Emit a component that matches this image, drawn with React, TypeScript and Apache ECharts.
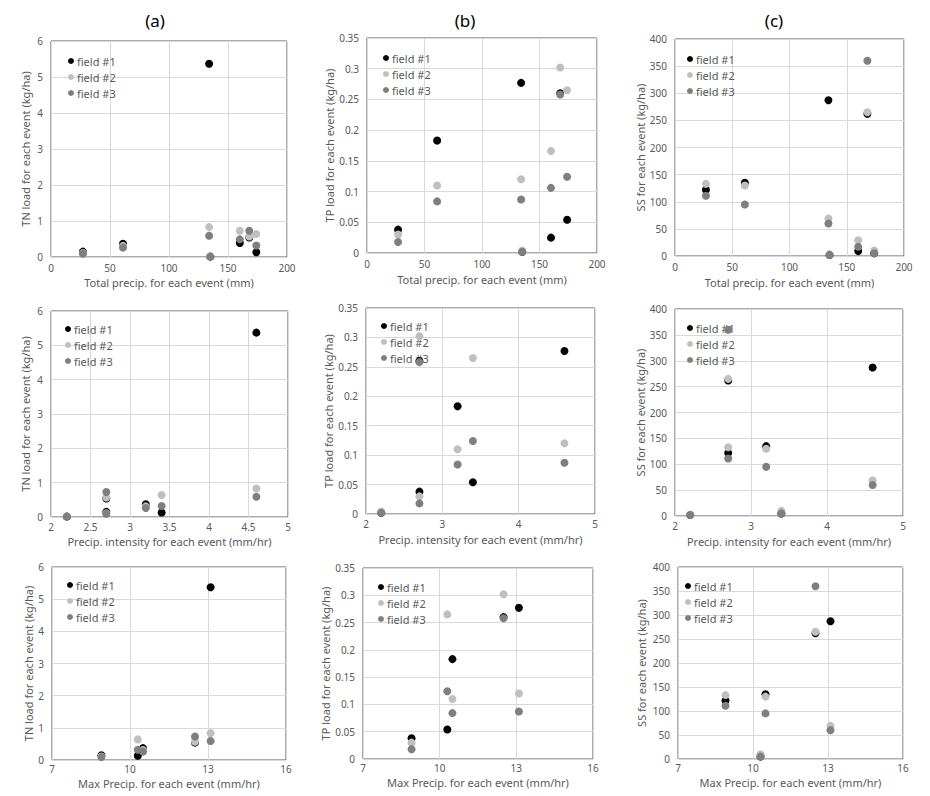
import React, { useEffect, useRef } from "react";
import * as echarts from "echarts";

// Event attributes (7 rainfall events)
const totalPrecip: (number | null)[] = [27, 61, 134, 135, 160, 168, 174];
const intensity: (number | null)[] = [2.7, 3.2, 4.6, 2.2, null, 2.7, 3.4];
const maxPrecip: (number | null)[] = [8.9, 10.5, 13.1, null, null, 12.5, 10.3];

// TN load (kg/ha)
const tnField1 = [0.15, 0.37, 5.37, 0.01, 0.39, 0.54, 0.13];
const tnField2 = [0.11, 0.31, 0.83, 0.02, 0.73, 0.57, 0.64];
const tnField3 = [0.09, 0.26, 0.59, 0.01, 0.49, 0.73, 0.32];

// TP load (kg/ha)
const tpField1 = [0.038, 0.183, 0.277, 0.002, 0.025, 0.26, 0.054];
const tpField2 = [0.03, 0.11, 0.12, 0.004, 0.166, 0.302, 0.265];
const tpField3 = [0.018, 0.084, 0.087, 0.002, 0.106, 0.258, 0.124];

// SS load (kg/ha)
const ssField1 = [122, 135, 287, 2, 9, 262, 5];
const ssField2 = [133, 130, 69, 3, 29, 265, 10];
const ssField3 = [111, 95, 60, 2, 17, 360, 5];

const fieldNames = ["field #1", "field #2", "field #3"];
const fieldColors = ["#000000", "#bfbfbf", "#7f7f7f"];
const panelTitles = ["(a)", "(b)", "(c)"];

const xAttrs = [
  { values: totalPrecip, name: "Total precip. for each event (mm)", min: 0, max: 200 },
  { values: intensity, name: "Precip. intensity for each event (mm/hr)", min: 2, max: 5 },
  { values: maxPrecip, name: "Max Precip. for each event (mm/hr)", min: 7, max: 16 },
];
const yAttrs = [
  { fields: [tnField1, tnField2, tnField3], name: "TN load for each event (kg/ha)", min: 0, max: 6, interval: 1 },
  { fields: [tpField1, tpField2, tpField3], name: "TP load for each event (kg/ha)", min: 0, max: 0.35, interval: 0.05 },
  { fields: [ssField1, ssField2, ssField3], name: "SS for each event (kg/ha)", min: 0, max: 400, interval: 50 },
];
const xIntervals = [
  [50, 50, 50],
  [0.5, 1, 1],
  [3, 3, 3],
];

// layout [row][col]
const grids = [
  [
    { left: 51, top: 41, width: 236, height: 216 },
    { left: 367, top: 38, width: 230, height: 215 },
    { left: 675, top: 39, width: 229, height: 217 },
  ],
  [
    { left: 51, top: 311, width: 237, height: 206 },
    { left: 366, top: 308, width: 229, height: 206 },
    { left: 675, top: 309, width: 228, height: 207 },
  ],
  [
    { left: 52, top: 567, width: 234, height: 193 },
    { left: 363, top: 568, width: 230, height: 191 },
    { left: 678, top: 567, width: 225, height: 192 },
  ],
];
const yNameGaps = [
  [20, 24, 28],
  [20, 29, 29],
  [18, 22, 31],
];
const xNameGaps = [
  [19, 20, 20],
  [18, 19, 19],
  [17, 17, 17],
];
const xLabelMargins = [5, 4, 3];
const legendPos = [
  [
    { left: 68, top: 55 },
    { left: 383, top: 52 },
    { left: 687, top: 53 },
  ],
  [
    { left: 65, top: 323 },
    { left: 381, top: 320 },
    { left: 687, top: 322 },
  ],
  [
    { left: 67, top: 579 },
    { left: 378, top: 581 },
    { left: 685, top: 580 },
  ],
];
const titleX = [155, 465, 774];

const FONT = "'Noto Sans', 'Open Sans', sans-serif";
const GREY = "#595959";

export default function App() {
  const ref = useRef<HTMLDivElement>(null);
  useEffect(() => {
    document.body.style.margin = "0";
    if (!ref.current) return;
    const chart = echarts.init(ref.current, undefined, { renderer: "svg" });
    const grid: any[] = [];
    const xAxis: any[] = [];
    const yAxis: any[] = [];
    const series: any[] = [];
    const legend: any[] = [];
    let idx = 0;
    for (let r = 0; r < 3; r++) {
      for (let c = 0; c < 3; c++) {
        const g = grids[r][c];
        const xa = xAttrs[r];
        const ya = yAttrs[c];
        grid.push({
          ...g,
          show: true,
          borderColor: GREY,
          borderWidth: 1,
          backgroundColor: "transparent",
          containLabel: false,
        });
        xAxis.push({
          type: "value",
          gridIndex: idx,
          min: xa.min,
          max: xa.max,
          interval: xIntervals[r][c],
          name: xa.name,
          nameLocation: "middle",
          nameGap: xNameGaps[r][c],
          nameTextStyle: { color: GREY, fontSize: 11, fontFamily: FONT, verticalAlign: "top", lineHeight: 12 },
          axisLine: { show: false },
          axisTick: { show: false },
          axisLabel: { color: GREY, fontSize: 10, fontFamily: FONT, margin: xLabelMargins[r], lineHeight: 11 },
          splitLine: { show: true, lineStyle: { color: "#d9d9d9", width: 1 } },
        });
        yAxis.push({
          type: "value",
          gridIndex: idx,
          min: ya.min,
          max: ya.max,
          interval: ya.interval,
          name: ya.name,
          nameLocation: "middle",
          nameRotate: 90,
          nameGap: yNameGaps[r][c],
          nameTextStyle: { color: GREY, fontSize: 11, fontFamily: FONT },
          axisLine: { show: false },
          axisTick: { show: false },
          axisLabel: { color: GREY, fontSize: 10, fontFamily: FONT, margin: 8 },
          splitLine: { show: true, lineStyle: { color: "#d9d9d9", width: 1 } },
        });
        for (let f = 0; f < 3; f++) {
          const data: number[][] = [];
          xa.values.forEach((xv, i) => {
            const yv = ya.fields[f][i];
            if (xv !== null && yv !== null && yv !== undefined) data.push([xv, yv]);
          });
          series.push({
            type: "scatter",
            name: fieldNames[f],
            xAxisIndex: idx,
            yAxisIndex: idx,
            data,
            symbol: "circle",
            symbolSize: 8,
            itemStyle: { color: fieldColors[f], opacity: 1 },
            z: 3 + f,
          });
        }
        legend.push({
          orient: "vertical",
          left: legendPos[r][c].left,
          top: legendPos[r][c].top,
          data: fieldNames.map((n, i) => ({ name: n, itemStyle: { color: fieldColors[i] } })),
          icon: "circle",
          itemWidth: 6,
          itemHeight: 6,
          itemGap: 4,
          padding: 0,
          selectedMode: false,
          textStyle: { color: GREY, fontSize: 11, fontFamily: FONT, lineHeight: 12, padding: [0, 0, 0, -2] },
          z: 1,
        });
        idx++;
      }
    }
    chart.setOption({
      animation: false,
      backgroundColor: "#ffffff",
      grid,
      xAxis,
      yAxis,
      series,
      legend,
      graphic: panelTitles.map((t, i) => ({
        type: "text",
        x: titleX[i],
        y: 20,
        style: {
          text: t,
          fill: "#000000",
          font: `17px ${FONT}`,
          textAlign: "center",
          textVerticalAlign: "middle",
        },
      })),
    });
    return () => chart.dispose();
  }, []);
  return <div ref={ref} style={{ width: 930, height: 796 }} />;
}
